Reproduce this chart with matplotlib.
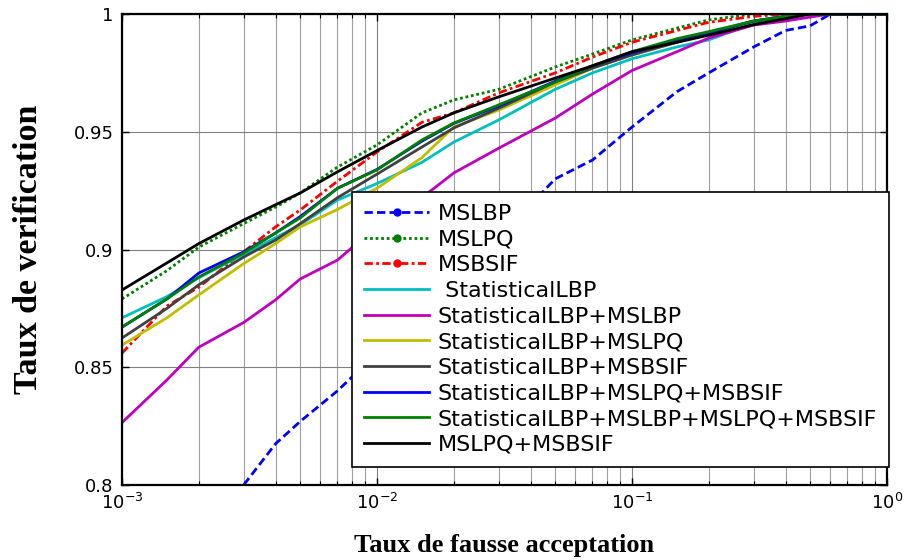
import numpy as np
import matplotlib
matplotlib.use('Agg')
import matplotlib.pyplot as plt
from matplotlib.lines import Line2D
from matplotlib.ticker import LogLocator, FixedLocator

plt.rcParams['font.family'] = ['DejaVu Sans']
plt.rcParams['mathtext.default'] = 'regular'

# taux de fausse acceptation (FAR)
far = [0.001, 0.0015, 0.002, 0.003, 0.004, 0.005, 0.007, 0.01, 0.015, 0.02,
       0.03, 0.05, 0.07, 0.1, 0.15, 0.2, 0.3, 0.4, 0.5, 0.6, 1.0]

# taux de verification par methode
mslbp = [0.76, 0.775, 0.787, 0.800, 0.8175, 0.827, 0.840, 0.856, 0.873, 0.887,
         0.905, 0.930, 0.938, 0.952, 0.967, 0.975, 0.986, 0.993, 0.995, 1.0, 1.0]
mslpq = [0.879, 0.891, 0.901, 0.911, 0.918, 0.924, 0.935, 0.9444, 0.958, 0.9635,
         0.968, 0.9775, 0.983, 0.989, 0.994, 0.9975, 1.0, 1.0, 1.0, 1.0, 1.0]
msbsif = [0.856, 0.876, 0.884, 0.899, 0.9096, 0.9168, 0.929, 0.9414, 0.954, 0.958,
          0.9665, 0.975, 0.9817, 0.988, 0.993, 0.9965, 0.999, 1.0, 1.0, 1.0, 1.0]
stat_lbp = [0.871, 0.880, 0.888, 0.898, 0.905, 0.9105, 0.921, 0.928, 0.937, 0.9456,
            0.955, 0.968, 0.975, 0.981, 0.986, 0.989, 0.996, 0.999, 1.0, 1.0, 1.0]
stat_mslbp = [0.8265, 0.8446, 0.8585, 0.869, 0.8786, 0.8875, 0.8955, 0.910, 0.922, 0.9325,
              0.943, 0.9558, 0.966, 0.976, 0.984, 0.9898, 0.9953, 0.997, 0.9987, 1.0, 1.0]
stat_mslpq = [0.8594, 0.871, 0.8807, 0.894, 0.9025, 0.9096, 0.917, 0.926, 0.939, 0.952,
              0.9592, 0.9699, 0.977, 0.9826, 0.988, 0.992, 0.997, 0.999, 1.0, 1.0, 1.0]
stat_msbsif = [0.8624, 0.875, 0.885, 0.8968, 0.904, 0.911, 0.922, 0.932, 0.9435, 0.9516,
               0.960, 0.9711, 0.977, 0.9826, 0.988, 0.992, 0.997, 0.999, 1.0, 1.0, 1.0]
stat_mslpq_msbsif = [0.867, 0.879, 0.890, 0.899, 0.907, 0.914, 0.926, 0.934, 0.946, 0.9535,
                     0.961, 0.9715, 0.978, 0.9835, 0.989, 0.992, 0.997, 0.999, 1.0, 1.0, 1.0]
stat_all = [0.8671, 0.879, 0.8883, 0.8985, 0.907, 0.9134, 0.926, 0.9338, 0.9465, 0.9537,
            0.9614, 0.9711, 0.978, 0.984, 0.9895, 0.9925, 0.997, 0.999, 1.0, 1.0, 1.0]
mslpq_msbsif = [0.8828, 0.8943, 0.9025, 0.9125, 0.919, 0.924, 0.933, 0.942, 0.952, 0.958,
                0.9648, 0.9728, 0.978, 0.984, 0.988, 0.991, 0.9955, 0.998, 1.0, 1.0, 1.0]

labels = ['MSLBP', 'MSLPQ', 'MSBSIF', ' StatisticalLBP', 'StatisticalLBP+MSLBP',
          'StatisticalLBP+MSLPQ', 'StatisticalLBP+MSBSIF', 'StatisticalLBP+MSLPQ+MSBSIF',
          'StatisticalLBP+MSLBP+MSLPQ+MSBSIF', 'MSLPQ+MSBSIF']
series = [mslbp, mslpq, msbsif, stat_lbp, stat_mslbp, stat_mslpq, stat_msbsif,
          stat_mslpq_msbsif, stat_all, mslpq_msbsif]
colors = ['#0000ff', '#008000', '#ff0000', '#00bfbf', '#bf00bf', '#bfbf00',
          '#404040', '#0000ff', '#008000', '#000000']
styles = [(0, (3, 1.5)), (0, (1, 1)), (0, (3, 1.2, 1, 1.2)), '-', '-', '-', '-', '-', '-', '-']
markers = ['o', 'o', 'o', None, None, None, None, None, None, None]

fig = plt.figure(figsize=(9.13, 5.6), dpi=100)
ax = fig.add_axes([0.1336, 0.1339, 0.8379, 0.8411])

for y, c, ls in zip(series, colors, styles):
    ax.plot(far, y, color=c, linestyle=ls, linewidth=2.0)

ax.set_xscale('log')
ax.set_xlim(1e-3, 1)
ax.set_ylim(0.8, 1)
ax.yaxis.set_major_locator(FixedLocator([0.8, 0.85, 0.9, 0.95, 1.0]))
ax.set_yticklabels(['0.8', '0.85', '0.9', '0.95', '1'])
ax.xaxis.set_minor_locator(LogLocator(base=10, subs=np.arange(2, 10)))

ax.grid(which='major', color='#808080', linewidth=0.8)
ax.xaxis.grid(which='minor', color='#a0a0a0', linewidth=0.8)
ax.set_axisbelow(True)

ax.tick_params(which='both', direction='in', top=True, right=True, labelsize=13, pad=6)
ax.tick_params(which='major', length=5, width=1)
ax.tick_params(which='minor', length=3, width=0.8)
for s in ax.spines.values():
    s.set_linewidth(1.6)

ax.set_xlabel('Taux de fausse acceptation', fontsize=19, fontweight='bold',
              family='Liberation Serif', labelpad=15)
ax.set_ylabel('Taux de verification', fontsize=24.5, fontweight='bold',
              family='Liberation Serif', labelpad=21)

handles = [Line2D([], [], color=c, linestyle=ls, linewidth=2.0, marker=m, markersize=5)
           for c, ls, m in zip(colors, styles, markers)]
leg = ax.legend(handles, labels, loc='lower right', bbox_to_anchor=(1.003, 0.038),
                fontsize=16, frameon=True, fancybox=False, edgecolor='black',
                framealpha=1, handlelength=2.9, handletextpad=0.4, labelspacing=0.255,
                borderaxespad=0, borderpad=0.55)
leg.get_frame().set_linewidth(1.2)

fig.savefig('out.png', dpi=100)
